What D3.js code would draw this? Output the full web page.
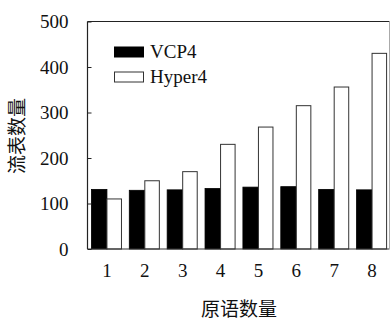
<!DOCTYPE html>
<html>
<head>
<meta charset="utf-8">
<style>
  body { margin: 0; background: #fff; }
  svg text { fill: #111; }
</style>
</head>
<body>
<svg id="chart" width="390" height="320"></svg>
<script src="https://cdn.jsdelivr.net/npm/d3@7"></script>
<script>
var categories = ["1", "2", "3", "4", "5", "6", "7", "8"];
var vcp4 = [131, 129, 130, 133, 136, 137, 131, 130];
var hyper4 = [110, 150, 170, 230, 268, 315, 356, 430];
var yTicks = [0, 100, 200, 300, 400, 500];
var seriesNames = ["VCP4", "Hyper4"];

var latin = "'Liberation Serif', 'DejaVu Serif', serif";
var cjk = "'Noto Sans CJK SC', sans-serif";

var svg = d3.select("#chart");
// note: "top" is taken by window.top, so plot edges get their own names
var plotL = 87.5, plotR = 389.5, plotT = 21.5, plotB = 249;

var x = d3.scaleBand().domain(categories).range([88, 391])
    .paddingInner(0.18).paddingOuter(0.09);
var sub = d3.scaleBand().domain(seriesNames).range([0, x.bandwidth()]);
var y = d3.scaleLinear().domain([0, 500]).range([plotB, plotT]);

// bars
var g = svg.append("g");
categories.forEach(function (c, i) {
  g.append("rect")
    .attr("x", x(c) + sub("VCP4"))
    .attr("y", y(vcp4[i]))
    .attr("width", sub.bandwidth())
    .attr("height", y(0) - y(vcp4[i]))
    .attr("fill", "#000").attr("stroke", "#000").attr("stroke-width", 0.8);
  g.append("rect")
    .attr("x", x(c) + sub("Hyper4"))
    .attr("y", y(hyper4[i]))
    .attr("width", sub.bandwidth() - 1)
    .attr("height", y(0) - y(hyper4[i]))
    .attr("fill", "#fff").attr("stroke", "#333").attr("stroke-width", 1);
});

// frame
svg.append("line").attr("x1", plotL).attr("x2", plotR).attr("y1", plotT).attr("y2", plotT)
  .attr("stroke", "#222").attr("stroke-width", 1.2);
svg.append("line").attr("x1", plotL).attr("x2", plotL).attr("y1", plotT).attr("y2", plotB)
  .attr("stroke", "#222").attr("stroke-width", 1.2);
svg.append("line").attr("x1", plotL).attr("x2", plotR).attr("y1", plotB).attr("y2", plotB)
  .attr("stroke", "#333").attr("stroke-width", 1.2);
svg.append("line").attr("x1", plotR).attr("x2", plotR).attr("y1", plotT).attr("y2", plotB)
  .attr("stroke", "#aaa").attr("stroke-width", 1);

// y axis
var yAxis = d3.axisLeft(y).tickValues(yTicks).tickSize(-4).tickPadding(19);
var ya = svg.append("g").attr("transform", "translate(" + plotL + ",0)").call(yAxis);
ya.select(".domain").remove();
ya.selectAll(".tick line").attr("stroke", "#222");
ya.selectAll("text").attr("font-family", latin).attr("font-size", 19).attr("fill", "#111");

// x axis
var xAxis = d3.axisBottom(x).tickSize(0).tickPadding(15);
var xa = svg.append("g").attr("transform", "translate(0," + plotB + ")").call(xAxis);
xa.select(".domain").remove();
xa.selectAll("text").attr("font-family", latin).attr("font-size", 19).attr("fill", "#111");

// titles
svg.append("text").attr("x", 239).attr("y", 316).attr("text-anchor", "middle")
  .attr("font-family", cjk).attr("font-size", 19).text("原语数量");
svg.append("text").attr("transform", "translate(24,136) rotate(-90)")
  .attr("text-anchor", "middle")
  .attr("font-family", cjk).attr("font-size", 19).text("流表数量");

// legend
var legend = svg.append("g");
seriesNames.forEach(function (s, i) {
  var ly = 47 + i * 25;
  legend.append("rect").attr("x", 114.5).attr("y", ly).attr("width", 29).attr("height", 10)
    .attr("fill", i === 0 ? "#000" : "#fff").attr("stroke", i === 0 ? "#000" : "#333");
  legend.append("text").attr("x", 150).attr("y", ly + 10.5)
    .attr("font-family", latin).attr("font-size", 19).text(s);
});
</script>
</body>
</html>
